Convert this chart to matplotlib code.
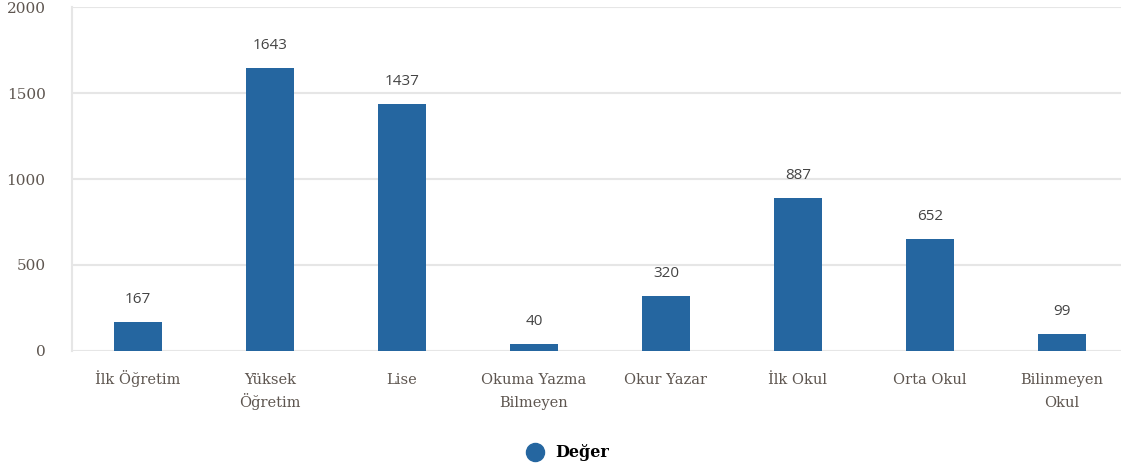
import numpy as np
import matplotlib.pyplot as plt
from matplotlib.lines import Line2D

categories = ['İlk Öğretim', 'Yüksek\nÖğretim', 'Lise', 'Okuma Yazma\nBilmeyen',
              'Okur Yazar', 'İlk Okul', 'Orta Okul', 'Bilinmeyen\nOkul']
values = [167, 1643, 1437, 40, 320, 887, 652, 99]
yticks = [0, 500, 1000, 1500, 2000]

bar_color = '#2566a0'
grid_color = '#e6e6e6'
text_color = '#5e5650'

fig = plt.figure(figsize=(11.21, 4.73), dpi=100)
ax = fig.add_axes([72 / 1121, 0.258, 1056 / 1121, 0.727])

x = np.arange(len(categories))
ax.bar(x, values, width=0.37, color=bar_color, zorder=3)
for xi, v in zip(x, values):
    ax.annotate(str(v), (xi, v), xytext=(0, 11), textcoords='offset points',
                ha='center', va='bottom', fontsize=11, color='#444444',
                family='Open Sans')

ax.set_xlim(-0.5, len(categories) - 0.5)
ax.set_ylim(0, 2000)
ax.set_yticks(yticks)
ax.set_xticks(x)
ax.set_xticklabels([])
# category labels drawn line by line so every first line shares one baseline
for xi, cat in zip(x, categories):
    for i, line in enumerate(cat.split('\n')):
        ax.annotate(line, (xi, 0), xycoords=('data', 'axes fraction'),
                    xytext=(0, -24 - i * 16.6), textcoords='offset points',
                    ha='center', va='baseline', family='DejaVu Serif',
                    fontsize=10.5, color=text_color, annotation_clip=False)
for lab in ax.get_yticklabels():
    lab.set_family('DejaVu Serif')
    lab.set_fontsize(11)
    lab.set_color(text_color)
ax.tick_params(axis='both', length=0)
ax.tick_params(axis='y', pad=19)
ax.grid(axis='y', color=grid_color, linewidth=1.5, zorder=0)
ax.set_axisbelow(True)
for side in ['top', 'right', 'bottom']:
    ax.spines[side].set_visible(False)
ax.spines['left'].set_color(grid_color)
ax.spines['left'].set_linewidth(1.5)

handle = Line2D([], [], marker='o', linestyle='none', markersize=13,
                markerfacecolor=bar_color, markeredgecolor=bar_color)
fig.legend([handle], ['Değer'], loc='center', bbox_to_anchor=(0.503, 0.043),
           frameon=False, handletextpad=0.3,
           prop={'family': 'DejaVu Serif', 'weight': 'bold', 'size': 11.5})

fig.savefig('out.png', dpi=100)
